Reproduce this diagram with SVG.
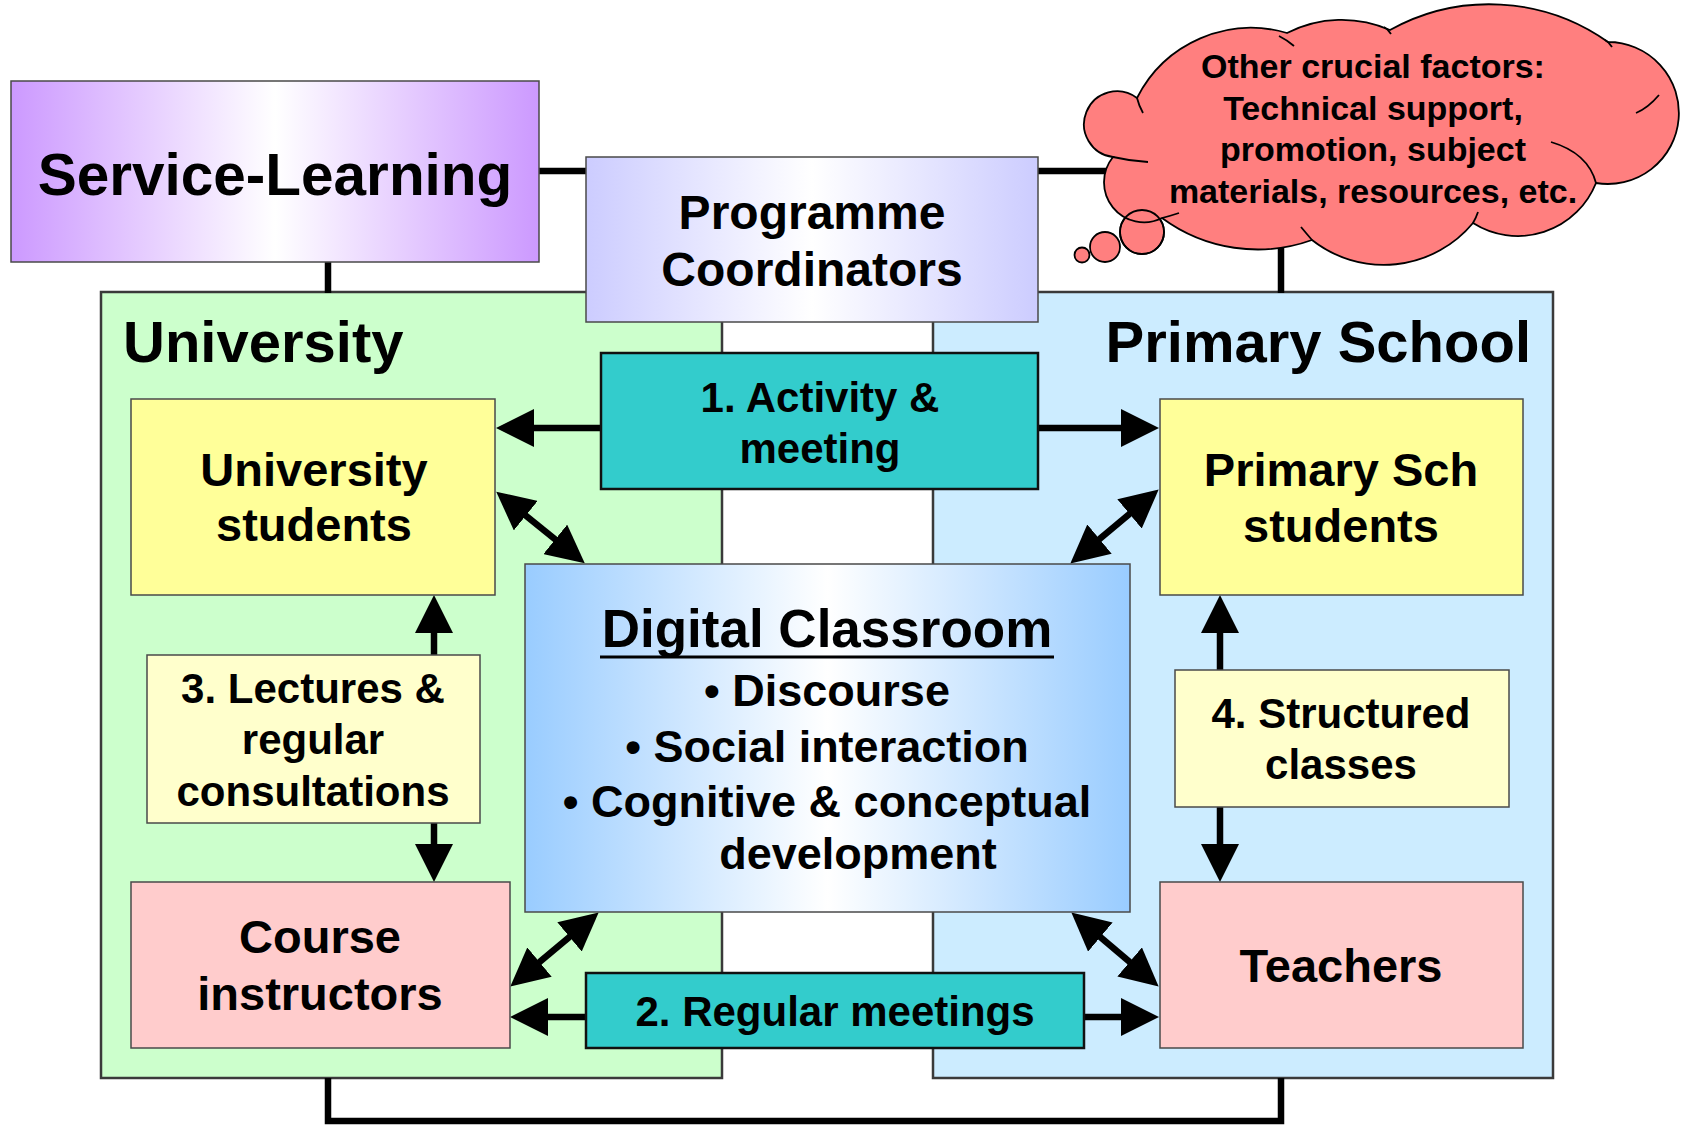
<svg xmlns="http://www.w3.org/2000/svg" width="1685" height="1125" viewBox="0 0 1685 1125">
<defs>
<style>
.t{font-family:"Liberation Sans",Arial,Helvetica,sans-serif;font-weight:bold;fill:#000;text-anchor:middle}
.box{stroke:#4a4a4a;stroke-width:1.5}
.dark{stroke:#111;stroke-width:2.5}
.cont{stroke:#3a3a3a;stroke-width:2.5}
.ln{fill:none;stroke:#000;stroke-width:6.5}
.ar{fill:none;stroke:#000;stroke-width:6.5;marker-end:url(#ah)}
.ar2{fill:none;stroke:#000;stroke-width:6.5;marker-start:url(#ah);marker-end:url(#ah)}
.cl{fill:none;stroke:#000;stroke-width:1.8}
.bub{fill:#FF7F7F;stroke:#000;stroke-width:1.8}
</style>
<linearGradient id="gPurple" x1="0" y1="0" x2="1" y2="0">
<stop offset="0" stop-color="#CC99FF"/><stop offset="0.5" stop-color="#FFFFFF"/><stop offset="1" stop-color="#CC99FF"/>
</linearGradient>
<linearGradient id="gLav" x1="0" y1="0" x2="1" y2="0">
<stop offset="0" stop-color="#CCCCFF"/><stop offset="0.5" stop-color="#FFFFFF"/><stop offset="1" stop-color="#CCCCFF"/>
</linearGradient>
<linearGradient id="gBlue" x1="0" y1="0" x2="1" y2="0">
<stop offset="0" stop-color="#99CCFF"/><stop offset="0.5" stop-color="#FFFFFF"/><stop offset="1" stop-color="#99CCFF"/>
</linearGradient>
<marker id="ah" viewBox="0 0 38 38" markerUnits="userSpaceOnUse" markerWidth="38" markerHeight="38" refX="28" refY="19" orient="auto-start-reverse">
<path d="M0,0 L38,19 L0,38 Z" fill="#000"/>
</marker>
</defs>
<rect x="0" y="0" width="1685" height="1125" fill="#FFFFFF"/>

<g id="university">
<rect class="cont" x="101" y="292" width="621" height="786" fill="#CCFFCC"/>
<text class="t" x="123" y="362" font-size="58" style="text-anchor:start">University</text>
</g>
<g id="primary-school">
<rect class="cont" x="933" y="292" width="620" height="786" fill="#CCECFF"/>
<text class="t" x="1531" y="362" font-size="58" style="text-anchor:end">Primary School</text>
</g>

<g id="connectors">
<line class="ln" x1="539" y1="171" x2="586" y2="171"/>
<line class="ln" x1="1038" y1="171" x2="1115" y2="171"/>
<line class="ln" x1="328" y1="262" x2="328" y2="293"/>
<line class="ln" x1="1281" y1="225" x2="1281" y2="293"/>
<path class="ln" d="M328,1078 V1121 H1281 V1078"/>
<line class="ar" x1="601" y1="428" x2="506" y2="428"/>
<line class="ar" x1="1038" y1="428" x2="1149" y2="428"/>
<line class="ar2" x1="504" y1="498" x2="577" y2="557"/>
<line class="ar2" x1="1151" y1="496" x2="1078" y2="557"/>
<line class="ar2" x1="591" y1="919" x2="518" y2="980"/>
<line class="ar2" x1="1079" y1="919" x2="1151" y2="980"/>
<line class="ar" x1="434" y1="655" x2="434" y2="605"/>
<line class="ar" x1="434" y1="823" x2="434" y2="872"/>
<line class="ar" x1="1220" y1="670" x2="1220" y2="605"/>
<line class="ar" x1="1220" y1="807" x2="1220" y2="872"/>
<line class="ar" x1="586" y1="1017" x2="520" y2="1017"/>
<line class="ar" x1="1084" y1="1017" x2="1149" y2="1017"/>
</g>

<g id="service-learning">
<rect class="box" x="11" y="81" width="528" height="181" fill="url(#gPurple)"/>
<text class="t" x="275" y="195" font-size="58.5">Service-Learning</text>
</g>

<g id="programme-coordinators">
<rect class="box" x="586" y="157" width="452" height="165" fill="url(#gLav)"/>
<text class="t" x="812" y="229" font-size="48">Programme</text>
<text class="t" x="812" y="286" font-size="48">Coordinators</text>
</g>

<g id="other-factors">
<circle class="bub" cx="1142" cy="232" r="22"/>
<path d="M1137,98 A128,128 0 0 1 1287,33 A120,120 0 0 1 1390,30 A205,205 0 0 1 1608,42 A71,71 0 1 1 1596,183 A84,84 0 0 1 1473,223 A116,116 0 0 1 1312,240 A161,161 0 0 1 1162,218 A40,40 0 0 1 1113,157 A33,33 0 1 1 1137,98 Z" fill="#FF7F7F" stroke="#000" stroke-width="1.8"/>
<path class="cl" d="M1137,98 Q1139,106 1143,113"/>
<path class="cl" d="M1279,36 Q1287,40 1294,46"/>
<path class="cl" d="M1384,27 Q1388,29 1391,34"/>
<path class="cl" d="M1605,40 Q1609,42 1612,47"/>
<path class="cl" d="M1636,113 Q1648,108 1659,95"/>
<path class="cl" d="M1596,183 Q1588,153 1551,142"/>
<path class="cl" d="M1473,223 Q1476,218 1478,212"/>
<path class="cl" d="M1312,240 Q1306,233 1301,227"/>
<path class="cl" d="M1162,218 Q1170,216 1179,213"/>
<path class="cl" d="M1113,157 Q1130,161 1148,162"/>
<circle cx="1142" cy="232" r="22" fill="none" stroke="#000" stroke-width="1.8"/>
<circle class="bub" cx="1105" cy="247" r="15"/>
<circle class="bub" cx="1082" cy="255" r="7.5"/>
<text class="t" x="1373" y="78" font-size="34">Other crucial factors:</text>
<text class="t" x="1373" y="120" font-size="34">Technical support,</text>
<text class="t" x="1373" y="161" font-size="34">promotion, subject</text>
<text class="t" x="1373" y="203" font-size="34">materials, resources, etc.</text>
</g>

<g id="activity-meeting">
<rect class="dark" x="601" y="353" width="437" height="136" fill="#33CCCC"/>
<text class="t" x="820" y="412" font-size="42">1. Activity &amp;</text>
<text class="t" x="820" y="463" font-size="42">meeting</text>
</g>

<g id="university-students">
<rect class="box" x="131" y="399" width="364" height="196" fill="#FFFF99"/>
<text class="t" x="314" y="486" font-size="47">University</text>
<text class="t" x="314" y="541" font-size="47">students</text>
</g>

<g id="primary-students">
<rect class="box" x="1160" y="399" width="363" height="196" fill="#FFFF99"/>
<text class="t" x="1341" y="486" font-size="47">Primary Sch</text>
<text class="t" x="1341" y="542" font-size="47">students</text>
</g>

<g id="digital-classroom">
<rect class="box" x="525" y="564" width="605" height="348" fill="url(#gBlue)"/>
<text class="t" x="827" y="647" font-size="53">Digital Classroom</text>
<line x1="600" y1="657" x2="1054" y2="657" stroke="#000" stroke-width="3"/>
<text class="t" x="827" y="706" font-size="45">• Discourse</text>
<text class="t" x="827" y="762" font-size="45">• Social interaction</text>
<text class="t" x="827" y="817" font-size="45">• Cognitive &amp; conceptual</text>
<text class="t" x="858" y="869" font-size="45">development</text>
</g>

<g id="lectures">
<rect class="box" x="147" y="655" width="333" height="168" fill="#FFFFCC"/>
<text class="t" x="313" y="703" font-size="42">3. Lectures &amp;</text>
<text class="t" x="313" y="754" font-size="42">regular</text>
<text class="t" x="313" y="806" font-size="42">consultations</text>
</g>

<g id="structured-classes">
<rect class="box" x="1175" y="670" width="334" height="137" fill="#FFFFCC"/>
<text class="t" x="1341" y="728" font-size="42">4. Structured</text>
<text class="t" x="1341" y="779" font-size="42">classes</text>
</g>

<g id="course-instructors">
<rect class="box" x="131" y="882" width="379" height="166" fill="#FFCCCC"/>
<text class="t" x="320" y="953" font-size="47">Course</text>
<text class="t" x="320" y="1010" font-size="47">instructors</text>
</g>

<g id="teachers">
<rect class="box" x="1160" y="882" width="363" height="166" fill="#FFCCCC"/>
<text class="t" x="1341" y="982" font-size="47">Teachers</text>
</g>

<g id="regular-meetings">
<rect class="dark" x="586" y="973" width="498" height="75" fill="#33CCCC"/>
<text class="t" x="835" y="1026" font-size="42">2. Regular meetings</text>
</g>
</svg>
